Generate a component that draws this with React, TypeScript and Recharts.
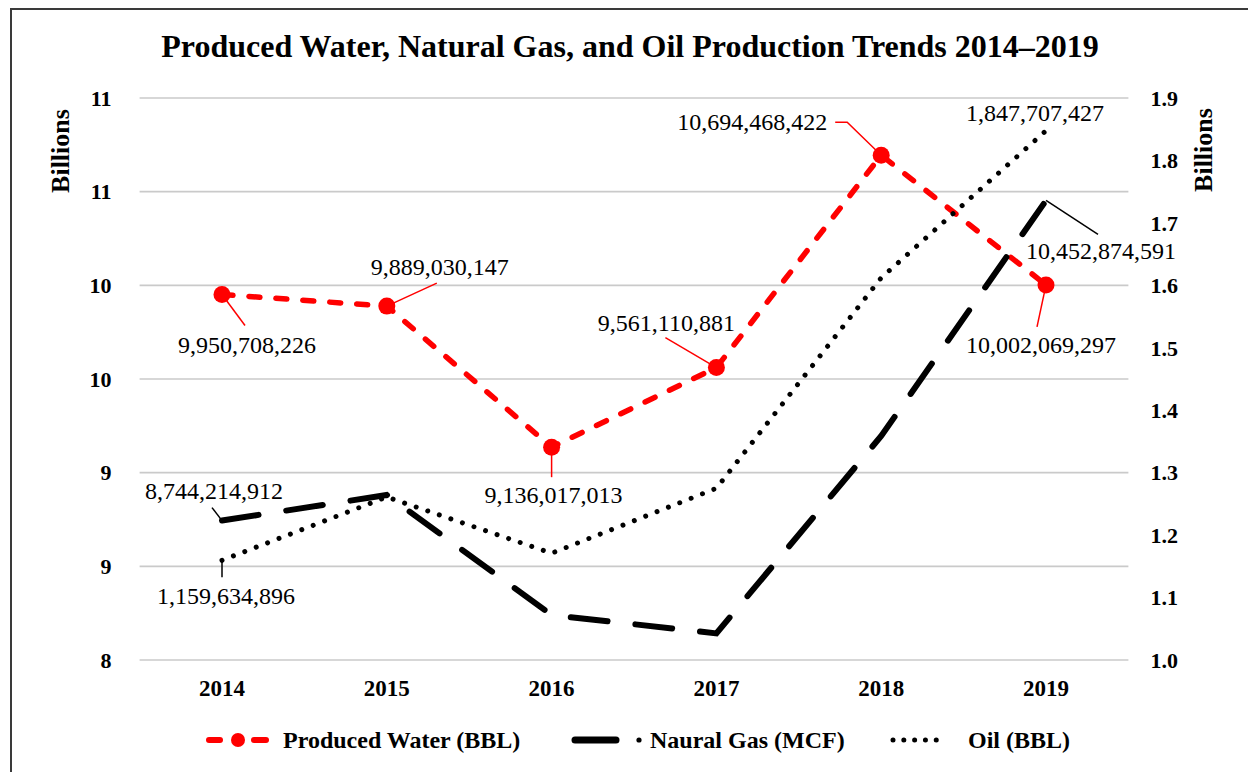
import { LineChart, Line, XAxis, YAxis, CartesianGrid, LabelList } from "recharts";

const YEARS = ["2014", "2015", "2016", "2017", "2018", "2019"];
const PRODUCED_WATER = [9950708226, 9889030147, 9136017013, 9561110881, 10694468422, 10002069297];
const NATURAL_GAS = [8744214912, 8881000000, 8240000000, 8142000000, 9196000000, 10452874591];
const OIL = [1159634896, 1261000000, 1171000000, 1275000000, 1612000000, 1847707427];
const LEFT_TICKS = [8e9, 8.5e9, 9e9, 9.5e9, 10e9, 10.5e9, 11e9];
const RIGHT_TICKS = [1.0e9, 1.1e9, 1.2e9, 1.3e9, 1.4e9, 1.5e9, 1.6e9, 1.7e9, 1.8e9, 1.9e9];
const SERIES_NAMES = ["Produced Water (BBL)", "Naural Gas (MCF)", "Oil (BBL)"];
const TITLE = "Produced Water, Natural Gas, and Oil Production Trends 2014\u20132019";

const data = YEARS.map((year, i) => ({
  year,
  water: PRODUCED_WATER[i],
  gas: NATURAL_GAS[i],
  oil: OIL[i],
}));

const SERIF = '"Liberation Serif", "Times New Roman", serif';
const RED = "#FF0000";

// label placement relative to the point: text centre + leader line path
type Pos = { dx: number; dy: number; lead: number[][] };
const WATER_POS: Record<number, Pos> = {
  0: { dx: 25, dy: 50, lead: [[23, 31]] },
  1: { dx: 53, dy: -39, lead: [[50, -23]] },
  2: { dx: 2, dy: 48, lead: [[0, 30]] },
  3: { dx: -50, dy: -45, lead: [[-51, -30]] },
  4: { dx: -129, dy: -33, lead: [[-34, -33], [-46, -33]] },
  5: { dx: -5, dy: 60, lead: [[-9, 42]] },
};
const GAS_POS: Record<number, Pos> = {
  0: { dx: -8, dy: -30, lead: [[-10, -13]] },
  5: { dx: 55, dy: 51, lead: [[52, 34]] },
};
const OIL_POS: Record<number, Pos> = {
  0: { dx: 4, dy: 36, lead: [[0, 17]] },
  5: { dx: -11, dy: -18, lead: [] },
};

function leaderLabel(pos: Record<number, Pos>, color: string) {
  return (props: any) => {
    const x = props.x ?? props.viewBox?.x;
    const y = props.y ?? props.viewBox?.y;
    const p = pos[props.index];
    if (!p || x == null || y == null) return null;
    const pts = [[x, y], ...p.lead.map(([a, b]) => [x + a, y + b])];
    return (
      <g key={`lbl-${color}-${props.index}`}>
        {p.lead.length > 0 && (
          <polyline points={pts.map((q) => q.join(",")).join(" ")} fill="none" stroke={color} strokeWidth={1.5} />
        )}
        <text x={x + p.dx} y={y + p.dy} textAnchor="middle" dominantBaseline="central"
          fontSize={24} fontFamily={SERIF} fill="#000">
          {Number(props.value).toLocaleString("en-US")}
        </text>
      </g>
    );
  };
}

const tickStyle = { fontSize: 22, fontWeight: "bold", fill: "#000", fontFamily: SERIF };
const xTickStyle = { ...tickStyle, fontSize: 23 };

function Legend() {
  const text = { position: "absolute" as const, top: 0, fontFamily: SERIF, fontWeight: "bold" as const, fontSize: 24, lineHeight: "26px", whiteSpace: "nowrap" as const };
  return (
    <div style={{ position: "absolute", left: 0, top: 727, width: 1248, height: 26 }}>
      <svg style={{ position: "absolute", left: 200, top: 0 }} width={80} height={26}>
        <line x1={9} y1={13} x2={20} y2={13} stroke={RED} strokeWidth={6} strokeLinecap="round" />
        <line x1={54} y1={13} x2={66} y2={13} stroke={RED} strokeWidth={6} strokeLinecap="round" />
        <circle cx={38} cy={13} r={7} fill={RED} />
      </svg>
      <span style={{ ...text, left: 283 }}>{SERIES_NAMES[0]}</span>
      <svg style={{ position: "absolute", left: 566, top: 0 }} width={80} height={26}>
        <line x1={9} y1={13} x2={50} y2={13} stroke="#000" strokeWidth={7} strokeLinecap="round" />
        <circle cx={73} cy={13} r={2.6} fill="#000" />
      </svg>
      <span style={{ ...text, left: 650 }}>{SERIES_NAMES[1]}</span>
      <svg style={{ position: "absolute", left: 885, top: 0 }} width={70} height={26}>
        <line x1={8} y1={13} x2={62} y2={13} stroke="#000" strokeWidth={5} strokeLinecap="round" strokeDasharray="0.01 10.8" />
      </svg>
      <span style={{ ...text, left: 968 }}>{SERIES_NAMES[2]}</span>
    </div>
  );
}

export default function App() {
  return (
    <div style={{ position: "absolute", left: 0, top: 0, width: 1248, height: 772, overflow: "hidden", background: "#fff" }}>
      <div style={{ position: "absolute", left: 10, top: 8, width: 1260, height: 800, border: "2px solid #3a3a3a", boxSizing: "border-box" }} />
      <div style={{ position: "absolute", left: 6, top: 29, width: 1248, textAlign: "center", fontFamily: SERIF, fontWeight: "bold", fontSize: 32, lineHeight: "35px" }}>
        {TITLE}
      </div>
      <div style={{ position: "absolute", left: 0, top: 0 }}>
        <LineChart width={1248} height={772} data={data} margin={{ top: 98, right: 59.6, bottom: 82, left: 79.6 }}>
          <CartesianGrid yAxisId="left" vertical={false} stroke="#CACACA" strokeWidth={1.6} />
          <XAxis dataKey="year" padding={{ left: 82.4, right: 82.4 }} axisLine={false} tickLine={false}
            tickSize={0} tickMargin={20} height={30} tick={xTickStyle} />
          <YAxis yAxisId="left" orientation="left" width={60} domain={[8e9, 11e9]} ticks={LEFT_TICKS}
            allowDataOverflow axisLine={false} tickLine={false} tickSize={0} tickMargin={28} tick={tickStyle}
            tickFormatter={(v: number) => String(Math.round(v / 1e9))}
            label={{ content: () => (
              <text x={60} y={151} transform="rotate(-90 60 151)" textAnchor="middle" dominantBaseline="central"
                fontSize={26} fontWeight="bold" fontFamily={SERIF} fill="#000">Billions</text>
            ) }} />
          <YAxis yAxisId="right" orientation="right" width={60} domain={[1e9, 1.9e9]} ticks={RIGHT_TICKS}
            allowDataOverflow axisLine={false} tickLine={false} tickSize={0} tickMargin={22} tick={tickStyle}
            tickFormatter={(v: number) => (v / 1e9).toFixed(1)}
            label={{ content: () => (
              <text x={1203} y={150} transform="rotate(-90 1203 150)" textAnchor="middle" dominantBaseline="central"
                fontSize={26} fontWeight="bold" fontFamily={SERIF} fill="#000">Billions</text>
            ) }} />
          <Line yAxisId="left" dataKey="water" name={SERIES_NAMES[0]} type="linear" stroke={RED} strokeWidth={5.5}
            strokeDasharray="11 16" strokeLinecap="round" isAnimationActive={false}
            dot={(p: any) => <circle key={`wd-${p.index}`} cx={p.cx} cy={p.cy} r={8.5} fill={RED} />}
            activeDot={false}>
            <LabelList dataKey="water" content={leaderLabel(WATER_POS, RED)} />
          </Line>
          <Line yAxisId="left" dataKey="gas" name={SERIES_NAMES[1]} type="linear" stroke="#000" strokeWidth={6}
            strokeDasharray="37 28" strokeLinecap="round" dot={false} activeDot={false} isAnimationActive={false}>
            <LabelList dataKey="gas" content={leaderLabel(GAS_POS, "#000")} />
          </Line>
          <Line yAxisId="right" dataKey="oil" name={SERIES_NAMES[2]} type="linear" stroke="#000" strokeWidth={5}
            strokeDasharray="0.01 12.2" strokeLinecap="round" dot={false} activeDot={false} isAnimationActive={false}>
            <LabelList dataKey="oil" content={leaderLabel(OIL_POS, "#000")} />
          </Line>
        </LineChart>
      </div>
      <Legend />
    </div>
  );
}
